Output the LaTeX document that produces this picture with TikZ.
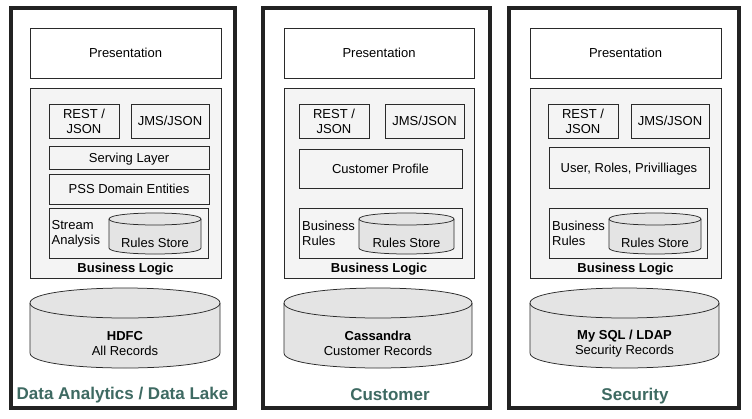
\documentclass[tikz,border=0pt]{standalone}
\usepackage{fontspec}
\setmainfont{Liberation Sans}
\definecolor{bggray}{HTML}{F4F4F4}
\definecolor{cylgray}{HTML}{E4E4E4}
\definecolor{titlecol}{HTML}{3E6A62}
\definecolor{framecol}{HTML}{222222}
\definecolor{linecol}{HTML}{2A2A2A}
\newcommand\rbox[7]{\node[#6, minimum width={(#4-#2)*1pt}, minimum height={(#5-#3)*1pt}] (#1) at ({(#2+#4)/2},{(#3+#5)/2}) {#7};}
\newcommand\dbcyl[6]{%
  \path[cylstyle] (#2,{#3+#6}) -- (#2,{#5-#6}) .. controls (#2,{#5-#6+4/3*#6}) and (#4,{#5-#6+4/3*#6}) .. (#4,{#5-#6}) -- (#4,{#3+#6}) .. controls (#4,{#3+#6-4/3*#6}) and (#2,{#3+#6-4/3*#6}) .. cycle;
  \draw[cylline] (#2,{#3+#6}) .. controls (#2,{#3+#6+4/3*#6}) and (#4,{#3+#6+4/3*#6}) .. (#4,{#3+#6});
  \coordinate (#1) at ({(#2+#4)/2},{(#3+#5)/2});
}
\begin{document}
\begin{tikzpicture}[x=1pt,y=-1pt,
  txt/.style={font=\fontsize{13}{15}\selectfont, inner sep=0pt, align=center, text=black},
  sl/.style={text height=9.3pt, text depth=0pt},
  framebox/.style={draw=framecol, line width=3.5pt, inner sep=0pt, outer sep=0pt},
  whitebox/.style={txt, draw=linecol, line width=0.75pt, fill=white, outer sep=0pt},
  graybox/.style={txt, draw=linecol, line width=0.75pt, fill=bggray, outer sep=0pt},
  cylstyle/.style={draw=linecol, line width=0.75pt, fill=cylgray},
  cylline/.style={draw=linecol, line width=0.75pt},
  boldtxt/.style={txt, sl, font=\fontsize{13}{15}\selectfont\bfseries},
  title/.style={inner sep=0pt, text=titlecol, text height=12.2pt, text depth=0pt, font=\fontsize{17}{20}\selectfont\bfseries}
]
\useasboundingbox (0,0) rectangle (752,418);
\fill[white] (0,0) rectangle (752,418);

% ---------- Panel 1 ----------
\rbox{f1}{11}{8}{235}{408}{framebox}{}
\rbox{pres1}{30}{28}{221}{78}{whitebox, sl}{Presentation}
\rbox{bl1}{30}{88}{221}{278}{graybox}{}
\rbox{rest1}{49}{104}{119}{138}{graybox}{REST /\\JSON}
\rbox{jms1}{131}{104}{209}{138}{graybox, sl}{JMS/JSON}
\rbox{serv1}{49}{146}{209}{169}{graybox, sl}{Serving Layer}
\rbox{pss1}{49}{174}{209}{204}{graybox, sl}{PSS Domain Entities}
\rbox{str1}{49}{208}{208}{258}{graybox}{}
\node[txt, align=left, anchor=west] (stxt1) at (51.5,234) {Stream\\Analysis};
\dbcyl{rs1}{109}{213}{201}{254}{6}
\node[txt, sl] (rstxt1) at (155,243) {Rules Store};
\node[boldtxt] (bltxt1) at (125.5,268) {Business Logic};
\dbcyl{db1}{30}{288}{220}{368}{15}
\node[txt] (dbtxt1) at (125,343.5) {\textbf{HDFC}\\All Records};
\node[title] (t1) at (122.5,393) {Data Analytics / Data Lake};

% ---------- Panel 2 ----------
\rbox{f2}{263}{8}{490}{408}{framebox}{}
\rbox{pres2}{284}{28}{474}{78}{whitebox, sl}{Presentation}
\rbox{bl2}{284}{88}{474}{278}{graybox}{}
\rbox{rest2}{299}{104}{369}{138}{graybox}{REST /\\JSON}
\rbox{jms2}{385}{104}{464}{138}{graybox, sl}{JMS/JSON}
\rbox{cp2}{299}{149}{462}{188}{graybox, sl}{Customer Profile}
\rbox{br2}{299}{208}{462}{258}{graybox}{}
\node[txt, align=left, anchor=west] (btxt2) at (302,233.5) {Business\\Rules};
\dbcyl{rs2}{359}{213}{454}{254}{6}
\node[txt, sl] (rstxt2) at (406.5,243) {Rules Store};
\node[boldtxt] (bltxt2) at (379,268) {Business Logic};
\dbcyl{db2}{284}{288}{472}{368}{15}
\node[txt] (dbtxt2) at (378,343.5) {\textbf{Cassandra}\\Customer Records};
\node[title] (t2) at (390,394) {Customer};

% ---------- Panel 3 ----------
\rbox{f3}{509}{8}{739}{408}{framebox}{}
\rbox{pres3}{530}{28}{721}{78}{whitebox, sl}{Presentation}
\rbox{bl3}{530}{88}{721}{278}{graybox}{}
\rbox{rest3}{548}{104}{618}{138}{graybox}{REST /\\JSON}
\rbox{jms3}{631}{104}{709}{138}{graybox, sl}{JMS/JSON}
\rbox{urp3}{549}{147}{709}{188}{graybox, sl}{User, Roles, Privilliages}
\rbox{br3}{549}{208}{707}{258}{graybox}{}
\node[txt, align=left, anchor=west] (btxt3) at (552,233.5) {Business\\Rules};
\dbcyl{rs3}{609}{213}{701}{254}{6}
\node[txt, sl] (rstxt3) at (655,243) {Rules Store};
\node[boldtxt] (bltxt3) at (625.5,268) {Business Logic};
\dbcyl{db3}{530}{288}{719}{368}{15}
\node[txt] (dbtxt3) at (624.5,343.5) {\textbf{My SQL / LDAP}\\Security Records};
\node[title] (t3) at (635,394) {Security};
\end{tikzpicture}
\end{document}
